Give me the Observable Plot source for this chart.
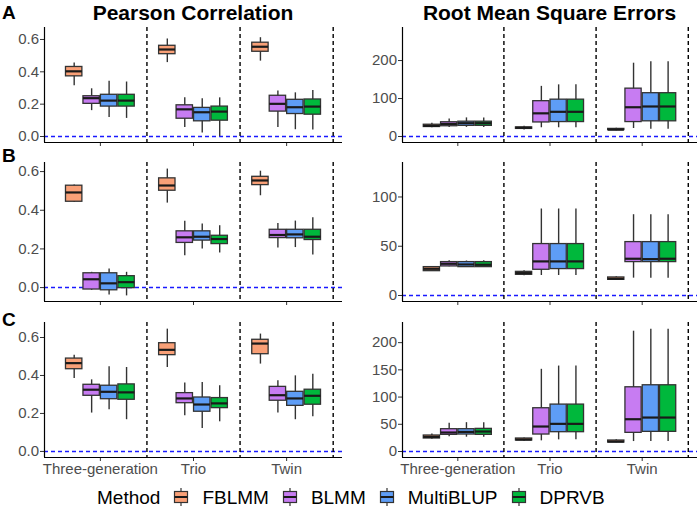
<!DOCTYPE html>
<html><head><meta charset="utf-8">
<script src="https://cdn.jsdelivr.net/npm/d3@7"></script>
<script src="https://cdn.jsdelivr.net/npm/@observablehq/plot@0.6"></script>
<style>
body{margin:0;background:#fff;font-family:"Liberation Sans",Arial,sans-serif;}
#root{position:relative;width:699px;height:508px;overflow:hidden;background:#fff;}
.abs{position:absolute;}
.title{font-weight:bold;font-size:21px;line-height:1;color:#000;text-align:center;white-space:nowrap;}
.tag{font-weight:bold;font-size:19px;line-height:1;color:#000;}
#legend{display:flex;align-items:center;font-size:19px;line-height:1;color:#000;white-space:nowrap;}
#legend span{margin-right:13px;}
#legend svg{margin-right:13px;}
</style></head><body><div id="root"></div>
<script>
const groups = ["Three-generation", "Trio", "Twin"];
const methods = ["FBLMM", "BLMM", "MultiBLUP", "DPRVB"];
const colors = ["#F9A077", "#C77CF2", "#5E9DF6", "#00B83C"];

// rows: [lower whisker, Q1, median, Q3, upper whisker]; order: group x method
const pearsonA = [
  [0.314, 0.372, 0.403, 0.430, 0.455], [0.160, 0.202, 0.237, 0.249, 0.295],
  [0.118, 0.185, 0.222, 0.258, 0.341], [0.112, 0.185, 0.222, 0.258, 0.337],
  [0.457, 0.509, 0.538, 0.561, 0.603], [0.056, 0.110, 0.168, 0.193, 0.239],
  [0.021, 0.094, 0.150, 0.177, 0.233], [0.000, 0.098, 0.154, 0.185, 0.239],
  [0.466, 0.524, 0.555, 0.580, 0.611], [0.056, 0.154, 0.202, 0.252, 0.281],
  [0.042, 0.139, 0.181, 0.227, 0.270], [0.040, 0.135, 0.185, 0.229, 0.285]
];
const rmseA = [
  [23, 25, 28, 31, 35], [24, 27, 33, 37.5, 46],
  [24, 28, 35, 39, 49], [24, 28, 35, 39, 49],
  [17, 20, 23, 24, 27], [23, 37, 61, 93, 132],
  [23, 38, 65, 97, 136], [23, 38, 65, 97, 136],
  [15, 17, 18, 20, 22], [21, 38, 77, 126, 193],
  [19, 40, 79, 114, 197], [19, 40, 79, 114, 197]
];
const pearsonB = [
  [0.440, 0.444, 0.492, 0.527, 0.530], [-0.014, -0.010, 0.043, 0.074, 0.079],
  [-0.038, -0.014, 0.022, 0.074, 0.096], [-0.043, -0.003, 0.028, 0.059, 0.079],
  [0.437, 0.501, 0.528, 0.565, 0.613], [0.165, 0.231, 0.260, 0.291, 0.343],
  [0.200, 0.243, 0.263, 0.291, 0.329], [0.179, 0.225, 0.251, 0.268, 0.320],
  [0.475, 0.530, 0.554, 0.573, 0.602], [0.205, 0.256, 0.272, 0.299, 0.332],
  [0.207, 0.255, 0.275, 0.299, 0.344], [0.169, 0.246, 0.263, 0.299, 0.361]
];
const rmseB = [
  [24.4, 24.7, 27.1, 28.8, 29.5], [29.2, 29.5, 32.2, 33.9, 35.3],
  [28.5, 28.8, 31.5, 33.9, 35.0], [28.5, 28.8, 31.2, 33.9, 35.3],
  [20.0, 21.0, 22.7, 24.0, 25.0], [20.3, 26.1, 34.6, 52.2, 87.8],
  [20.3, 26.8, 34.6, 52.2, 87.8], [20.3, 26.8, 34.6, 52.2, 87.8],
  [15.3, 15.9, 17.0, 18.3, 19.0], [17.6, 33.9, 37.3, 54.2, 82.0],
  [17.6, 33.9, 36.9, 54.2, 82.0], [17.6, 33.9, 37.3, 54.2, 82.0]
];
const pearsonC = [
  [0.384, 0.433, 0.465, 0.489, 0.507], [0.202, 0.293, 0.325, 0.351, 0.377],
  [0.219, 0.275, 0.314, 0.346, 0.446], [0.167, 0.272, 0.311, 0.353, 0.442],
  [0.442, 0.507, 0.535, 0.570, 0.644], [0.188, 0.254, 0.279, 0.307, 0.360],
  [0.121, 0.209, 0.247, 0.284, 0.363], [0.156, 0.228, 0.253, 0.281, 0.346],
  [0.460, 0.512, 0.568, 0.588, 0.618], [0.202, 0.267, 0.296, 0.340, 0.372],
  [0.167, 0.240, 0.279, 0.314, 0.398], [0.182, 0.246, 0.293, 0.325, 0.407]
];
const rmseC = [
  [22.6, 23.9, 26.9, 29.4, 32.4], [27.0, 30.6, 34.9, 41.0, 52.0],
  [26.3, 31.2, 36.0, 41.0, 53.0], [26.3, 30.6, 36.7, 41.6, 53.0],
  [19.0, 20.2, 22.0, 23.9, 25.0], [19.6, 31.2, 45.9, 79.5, 151],
  [21.4, 35.5, 50.8, 86.2, 157], [21.4, 35.5, 50.8, 86.2, 157],
  [15.9, 16.5, 18.3, 20.2, 21.4], [18.3, 34.3, 59.3, 118, 221],
  [18.3, 36.1, 62.4, 121.7, 224.5], [18.3, 36.1, 62.4, 121.7, 224.5]
];

const pearsonTicks = [0, 0.2, 0.4, 0.6];
const rmseTicksA = [0, 100, 200];
const rmseTicksB = [0, 50, 100];
const rmseTicksC = [0, 50, 100, 150, 200];

const root = document.getElementById("root");
const FONT = "'Liberation Sans', Arial, sans-serif";
const dodge = 0.1875, hw = 0.088;

function toRows(stats) {
  return stats.map((s, i) => {
    const gi = Math.floor(i / methods.length), mi = i % methods.length;
    return {group: groups[gi], method: methods[mi], pos: gi + 1 + (mi - 1.5) * dodge,
            lo: s[0], q1: s[1], med: s[2], q3: s[3], hi: s[4]};
  });
}

function panel({stats, yDomain, yTicks, yFormat, width, marginLeft, marginRight, height, marginBottom, xLabels}) {
  const data = toRows(stats);
  return Plot.plot({
    width, height, marginLeft, marginRight, marginTop: 6, marginBottom,
    style: {fontFamily: FONT, fontSize: "15px", background: "white", overflow: "visible"},
    x: {type: "linear", domain: [0.4, 3.6], axis: null},
    y: {domain: yDomain, axis: null},
    color: {domain: methods, range: colors},
    marks: [
      Plot.ruleY([0], {stroke: "#1a1aff", strokeDasharray: "4,3", strokeWidth: 1.5}),
      Plot.ruleX([1.5, 2.5, 3.5], {stroke: "#000", strokeDasharray: "4,3", strokeWidth: 1.4}),
      Plot.ruleX(data, {x: "pos", y1: "lo", y2: "hi", stroke: "#333", strokeWidth: 1.4}),
      Plot.rect(data, {x1: d => d.pos - hw, x2: d => d.pos + hw, y1: "q1", y2: "q3",
                       fill: "method", stroke: "#333", strokeWidth: 1.3}),
      Plot.ruleY(data, {y: "med", x1: d => d.pos - hw, x2: d => d.pos + hw, stroke: "#1a1a1a", strokeWidth: 2.2}),
      Plot.axisY({ticks: yTicks, tickFormat: yFormat, tickSize: 4, tickPadding: 1.5, label: null,
                  fontSize: 15, stroke: "#333", fill: "#4d4d4d"}),
      Plot.axisX({ticks: [1, 2, 3], tickSize: 4, tickPadding: 2, label: null,
                  tickFormat: xLabels ? (d => groups[d - 1]) : (() => ""),
                  fontSize: 15, stroke: "#333", fill: "#4d4d4d"}),
      Plot.ruleX([0.4], {stroke: "#000", strokeWidth: 1.2}),
      Plot.ruleY([yDomain[0]], {stroke: "#000", strokeWidth: 1.2})
    ]
  });
}

function place(el, left, top) {
  const d = document.createElement("div");
  d.className = "abs";
  d.style.left = left + "px";
  d.style.top = top + "px";
  d.appendChild(el);
  root.appendChild(d);
  return d;
}

const f1 = d3.format(".1f");
const L = {width: 349, marginLeft: 44, marginRight: 7};
const R = {width: 350, marginLeft: 53, marginRight: 2};

const rows = [
  {top: 21, height: 129, marginBottom: 8, xLabels: false, p: pearsonA, pd: [-0.037, 0.674], r: rmseA, rd: [-15.8, 287], rt: rmseTicksA},
  {top: 156, height: 153, marginBottom: 8, xLabels: false, p: pearsonB, pd: [-0.072, 0.647], r: rmseB, rd: [-6.1, 135], rt: rmseTicksB},
  {top: 316, height: 165, marginBottom: 24, xLabels: true, p: pearsonC, pd: [-0.032, 0.679], r: rmseC, rd: [-11, 237], rt: rmseTicksC}
];

for (const row of rows) {
  place(panel({stats: row.p, yDomain: row.pd, yTicks: pearsonTicks, yFormat: f1, ...L,
               height: row.height, marginBottom: row.marginBottom, xLabels: row.xLabels}), 0, row.top);
  place(panel({stats: row.r, yDomain: row.rd, yTicks: row.rt, yFormat: d3.format("d"), ...R,
               height: row.height, marginBottom: row.marginBottom, xLabels: row.xLabels}), 349, row.top);
}

function textDiv(txt, cls, left, top, width) {
  const d = document.createElement("div");
  d.className = "abs " + cls;
  d.textContent = txt;
  d.style.left = left + "px";
  d.style.top = top + "px";
  if (width) d.style.width = width + "px";
  root.appendChild(d);
}
textDiv("Pearson Correlation", "title", 44, 1.5, 298);
textDiv("Root Mean Square Errors", "title", 402, 1.5, 295);
textDiv("A", "tag", 2, 2.5);
textDiv("B", "tag", 2, 145.5);
textDiv("C", "tag", 2, 309.5);

// legend
const leg = document.createElement("div");
leg.id = "legend";
leg.className = "abs";
leg.style.left = "97px";
leg.style.top = "487px";
const lab = document.createElement("span");
lab.textContent = "Method";
leg.appendChild(lab);
methods.forEach((m, i) => {
  const ns = "http://www.w3.org/2000/svg";
  const s = document.createElementNS(ns, "svg");
  s.setAttribute("width", 16); s.setAttribute("height", 20);
  s.innerHTML = `<line x1="8" x2="8" y1="1" y2="19" stroke="#333" stroke-width="1.2"/>
    <rect x="1.5" y="4.5" width="13" height="11" fill="${colors[i]}" stroke="#333" stroke-width="1.2"/>
    <line x1="1.5" x2="14.5" y1="10" y2="10" stroke="#1a1a1a" stroke-width="2"/>`;
  leg.appendChild(s);
  const t = document.createElement("span");
  t.textContent = m;
  leg.appendChild(t);
});
root.appendChild(leg);
</script></body></html>
